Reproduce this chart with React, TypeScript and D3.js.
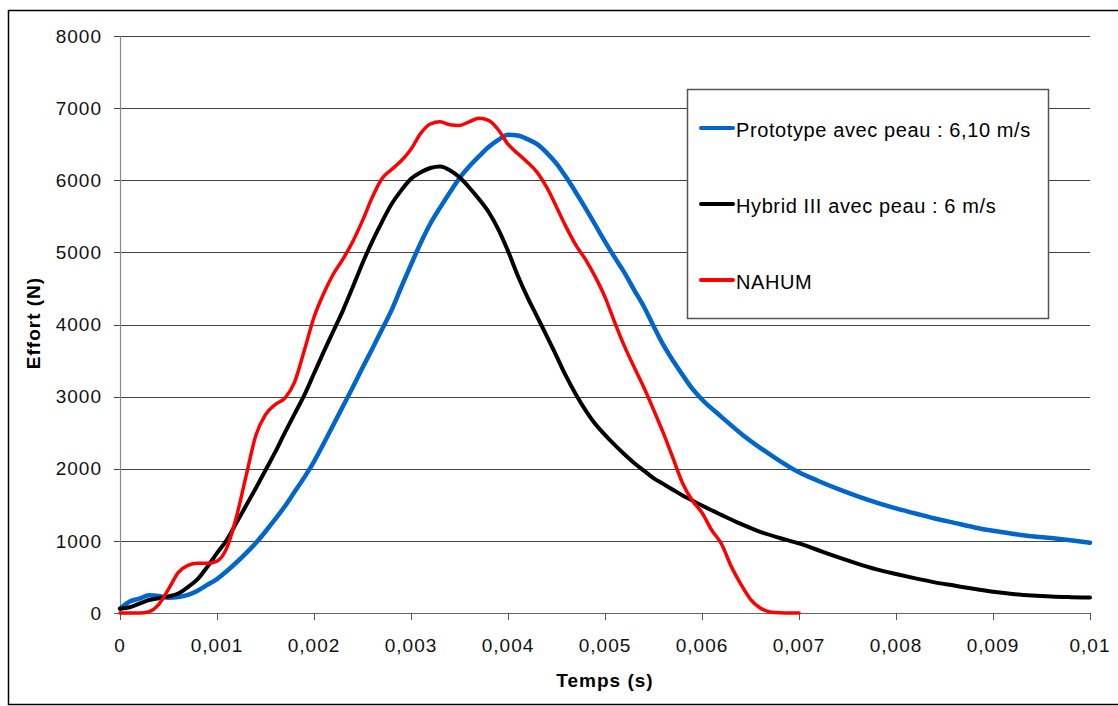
import React from "react";
import * as d3 from "d3";

// time in seconds
const protoT = [0,0.0001,0.0002,0.0003,0.0004,0.0005,0.0006,0.0007,0.0008,0.0009,0.001,0.0011,0.0012,0.0013,0.0014,0.0015,0.0016,0.0017,0.0018,0.0019,0.002,0.0021,0.0022,0.0023,0.0024,0.0025,0.0026,0.0027,0.0028,0.0029,0.003,0.0031,0.0032,0.0033,0.0034,0.0035,0.0036,0.0037,0.0038,0.0039,0.004,0.0041,0.0042,0.0043,0.0044,0.0045,0.0046,0.0047,0.0048,0.0049,0.005,0.0051,0.0052,0.0053,0.0054,0.0055,0.0056,0.0057,0.0058,0.0059,0.006,0.0062,0.0064,0.0066,0.0068,0.007,0.0072,0.0074,0.0076,0.0078,0.008,0.0082,0.0084,0.0086,0.0088,0.009,0.0092,0.0094,0.0096,0.0098,0.01];
const protoF = [60,160,200,245,235,210,220,250,310,390,470,580,700,830,970,1130,1300,1480,1680,1880,2100,2350,2610,2870,3130,3400,3660,3930,4200,4520,4830,5130,5400,5620,5830,6030,6190,6330,6460,6560,6630,6620,6570,6500,6380,6230,6040,5830,5610,5380,5150,4930,4720,4480,4250,3980,3720,3500,3300,3110,2960,2720,2490,2290,2110,1950,1830,1720,1620,1530,1450,1380,1310,1250,1190,1140,1100,1065,1040,1010,975];

const hybridT = [0,0.0001,0.0002,0.0003,0.0004,0.0005,0.0006,0.0007,0.0008,0.0009,0.001,0.0011,0.0012,0.0013,0.0014,0.0015,0.0016,0.0017,0.0018,0.0019,0.002,0.0021,0.0022,0.0023,0.0024,0.0025,0.0026,0.0027,0.0028,0.0029,0.003,0.0031,0.0032,0.0033,0.0034,0.0035,0.0036,0.0037,0.0038,0.0039,0.004,0.0041,0.0042,0.0043,0.0044,0.0045,0.0046,0.0047,0.0048,0.0049,0.005,0.0051,0.0052,0.0053,0.0054,0.0055,0.0056,0.0057,0.0058,0.0059,0.006,0.0062,0.0064,0.0066,0.0068,0.007,0.0072,0.0074,0.0076,0.0078,0.008,0.0082,0.0084,0.0086,0.0088,0.009,0.0092,0.0094,0.0096,0.0098,0.01];
const hybridF = [60,80,130,180,205,230,270,360,470,640,830,1010,1250,1490,1730,1980,2230,2500,2760,3020,3320,3620,3910,4200,4520,4850,5150,5420,5670,5860,6020,6110,6170,6190,6140,6040,5900,5740,5560,5320,5020,4680,4380,4110,3840,3560,3280,3030,2810,2620,2470,2330,2200,2080,1975,1870,1790,1710,1630,1560,1490,1360,1235,1125,1040,965,870,775,685,605,540,480,425,380,335,295,265,243,228,220,215];

const nahumT = [0,0.0001,0.0002,0.0003,0.0004,0.0005,0.0006,0.0007,0.0008,0.0009,0.001,0.0011,0.0012,0.0013,0.0014,0.0015,0.0016,0.0017,0.0018,0.0019,0.002,0.0021,0.0022,0.0023,0.0024,0.0025,0.0026,0.0027,0.0028,0.0029,0.003,0.0031,0.0032,0.0033,0.0034,0.0035,0.0036,0.0037,0.0038,0.0039,0.004,0.0041,0.0042,0.0043,0.0044,0.0045,0.0046,0.0047,0.0048,0.0049,0.005,0.0051,0.0052,0.0053,0.0054,0.0055,0.0056,0.0057,0.0058,0.0059,0.006,0.0061,0.0062,0.0063,0.0064,0.0065,0.0066,0.0067,0.0068,0.0069,0.007];
const nahumF = [0,0,0,20,120,330,560,660,690,690,720,900,1330,1900,2460,2750,2890,2980,3200,3640,4100,4430,4700,4910,5150,5440,5760,6020,6150,6270,6430,6650,6780,6810,6770,6760,6810,6860,6830,6700,6500,6370,6250,6110,5900,5630,5350,5100,4900,4660,4380,4030,3700,3410,3130,2820,2500,2150,1800,1560,1390,1150,960,650,400,190,70,15,3,0,0];

const xTicks = [0,0.001,0.002,0.003,0.004,0.005,0.006,0.007,0.008,0.009,0.01];
const xTickLabels = ["0","0,001","0,002","0,003","0,004","0,005","0,006","0,007","0,008","0,009","0,01"];
const yTicks = [0,1000,2000,3000,4000,5000,6000,7000,8000];

const seriesNames = ["Prototype avec peau : 6,10 m/s","Hybrid III avec peau : 6 m/s","NAHUM"];
const seriesColors = ["#0066CC","#000000","#FF0000"];
const seriesWidths = [4.5,4,3.5];

export default function App() {
  const x = d3.scaleLinear().domain([0, 0.01]).range([120, 1090]);
  const y = d3.scaleLinear().domain([0, 8000]).range([613, 36]);
  const line = d3.line<[number, number]>().x(d => x(d[0])).y(d => y(d[1])).curve(d3.curveMonotoneX);
  const series = [
    d3.zip(protoT, protoF) as [number, number][],
    d3.zip(hybridT, hybridF) as [number, number][],
    d3.zip(nahumT, nahumF) as [number, number][],
  ];
  const font = "Liberation Sans, Arial, sans-serif";
  return (
    <svg width={1118} height={706} style={{ position: "absolute", left: 0, top: 0, background: "#fff" }} fontFamily={font}>
      <rect x={0} y={0} width={1118} height={706} fill="#fff" />
      <rect x={8.5} y={10.5} width={1130} height={694} fill="none" stroke="#000" strokeWidth={1.5} />
      {yTicks.map(t => (
        <g key={t}>
          <line x1={114} x2={1090} y1={Math.round(y(t)) + 0.5} y2={Math.round(y(t)) + 0.5} stroke={t === 0 ? "#666" : "#444"} strokeWidth={1} />
          <text x={102} y={y(t)} dy="0.35em" textAnchor="end" fontSize={19} letterSpacing={1} fill="#111">{t}</text>
        </g>
      ))}
      <line x1={120.5} x2={120.5} y1={36} y2={613} stroke="#888" strokeWidth={1.2} />
      {xTicks.map((t, i) => (
        <g key={t}>
          <line x1={Math.round(x(t)) + 0.5} x2={Math.round(x(t)) + 0.5} y1={613} y2={620} stroke="#555" />
          <text x={x(t)} y={652} textAnchor="middle" fontSize={19} letterSpacing={1} fill="#111">{xTickLabels[i]}</text>
        </g>
      ))}
      {series.map((s, i) => (
        <path key={i} d={line(s) || ""} fill="none" stroke={seriesColors[i]} strokeWidth={seriesWidths[i]} strokeLinejoin="round" strokeLinecap="round" />
      ))}
      <rect x={687.5} y={89.5} width={361} height={229} fill="#fff" stroke="#555" strokeWidth={1.5} />
      {seriesNames.map((n, i) => {
        const ly = 128 + i * 76;
        return (
          <g key={n}>
            <line x1={701} x2={733} y1={ly} y2={ly} stroke={seriesColors[i]} strokeWidth={4} strokeLinecap="round" />
            <text x={736} y={ly + 9} fontSize={20} letterSpacing={0.6} fill="#000">{n}</text>
          </g>
        );
      })}
      <text x={605} y={687} textAnchor="middle" fontSize={19} fontWeight="bold" letterSpacing={1}>Temps (s)</text>
      <text transform={`translate(40,323) rotate(-90)`} textAnchor="middle" fontSize={19} fontWeight="bold" letterSpacing={1}>Effort (N)</text>
    </svg>
  );
}
